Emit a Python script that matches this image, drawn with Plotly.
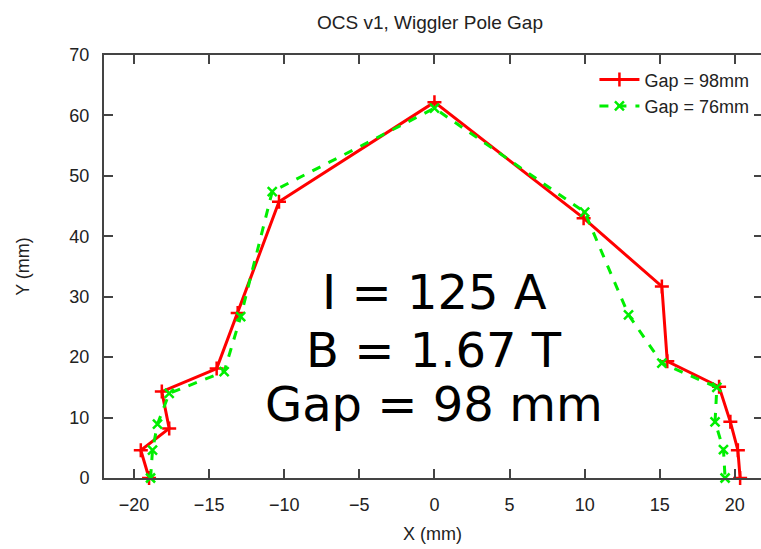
import plotly.graph_objects as go

# Gap = 98 mm (red)
x98 = [-19.0, -19.55, -17.66, -18.15, -14.5, -13.1, -10.35, 0.0, 9.93, 15.14, 15.5, 18.95, 19.7, 20.2, 20.35]
y98 = [0.0, 4.6, 8.2, 14.3, 18.1, 27.3, 45.7, 62.2, 43.0, 31.7, 19.3, 15.1, 9.3, 4.6, 0.0]

# Gap = 76 mm (green)
x76 = [-18.9, -18.77, -18.44, -17.66, -14.0, -12.9, -10.8, 0.0, 10.0, 12.92, 15.14, 18.8, 18.68, 19.24, 19.35]
y76 = [0.0, 4.6, 8.9, 14.0, 17.6, 26.7, 47.4, 61.2, 44.0, 27.0, 19.0, 15.0, 9.3, 4.7, 0.0]

names = ["Gap = 98mm", "Gap = 76mm"]
x_ticks = [-20, -15, -10, -5, 0, 5, 10, 15, 20]
y_ticks = [0, 10, 20, 30, 40, 50, 60, 70]
info_lines = ["I = 125 A", "B = 1.67 T", "Gap = 98 mm"]
info_y = [30.8, 21.2, 12.25]

fig = go.Figure()
fig.add_trace(go.Scatter(
    x=x98, y=y98, name=names[0], mode="lines+markers",
    line=dict(color="#ff0000", width=3),
    marker=dict(symbol="cross-thin", size=10, color="#ff0000",
                line=dict(color="#ff0000", width=2.5)),
    cliponaxis=False,
))
fig.add_trace(go.Scatter(
    x=x76, y=y76, name=names[1], mode="lines+markers",
    line=dict(color="#00ee00", width=3, dash="dash"),
    marker=dict(symbol="x-thin", size=9, color="#00ee00",
                line=dict(color="#00ee00", width=2.5)),
    cliponaxis=False,
))
# invisible trace for the right-side mirrored ticks
fig.add_trace(go.Scatter(x=[None], y=[None], yaxis="y2", showlegend=False, hoverinfo="skip"))

for txt, yy in zip(info_lines, info_y):
    fig.add_annotation(x=0, y=yy, xref="x", yref="y", text=txt, showarrow=False,
                       xanchor="center", yanchor="middle",
                       font=dict(family="DejaVu Sans", size=48, color="#000000"))

axis_font = dict(family="Liberation Sans", size=18, color="#222222")

fig.update_layout(
    width=761, height=549,
    margin=dict(l=104, r=0, t=55, b=71),
    paper_bgcolor="white", plot_bgcolor="white",
    title=dict(text="OCS v1, Wiggler Pole Gap", x=0.565, xanchor="center",
               y=1 - 22 / 549, yanchor="middle", yref="container",
               font=dict(family="Liberation Sans", size=19, color="#222222")),
    xaxis=dict(range=[-22, 21.74], tickvals=x_ticks, ticks="inside", ticklen=9,
               tickwidth=1.5, tickcolor="#444444", showline=True, linecolor="#444444",
               linewidth=2, mirror="ticks", showgrid=False, zeroline=False,
               tickfont=axis_font, ticklabelstandoff=9,
               title=dict(text="X (mm)", font=axis_font, standoff=14)),
    yaxis=dict(range=[0, 70], tickvals=y_ticks, ticks="inside", ticklen=9,
               tickwidth=1.5, tickcolor="#444444", showline=True, linecolor="#444444",
               linewidth=2, mirror=False, showgrid=False, zeroline=False,
               tickfont=axis_font, ticklabelstandoff=9,
               title=dict(text="Y (mm)", font=axis_font, standoff=35)),
    yaxis2=dict(range=[0, 70], tickvals=y_ticks, ticks="inside", ticklen=7,
                tickwidth=1.5, tickcolor="#444444", overlaying="y", side="right",
                showticklabels=False, showline=False, showgrid=False, zeroline=False),
    legend=dict(x=0.99, y=0.985, xanchor="right", yanchor="top",
                bgcolor="rgba(0,0,0,0)", font=dict(family="Liberation Sans", size=18, color="#222222"),
                tracegroupgap=0, itemwidth=40),
    showlegend=True,
)

fig.write_html("out.html")
